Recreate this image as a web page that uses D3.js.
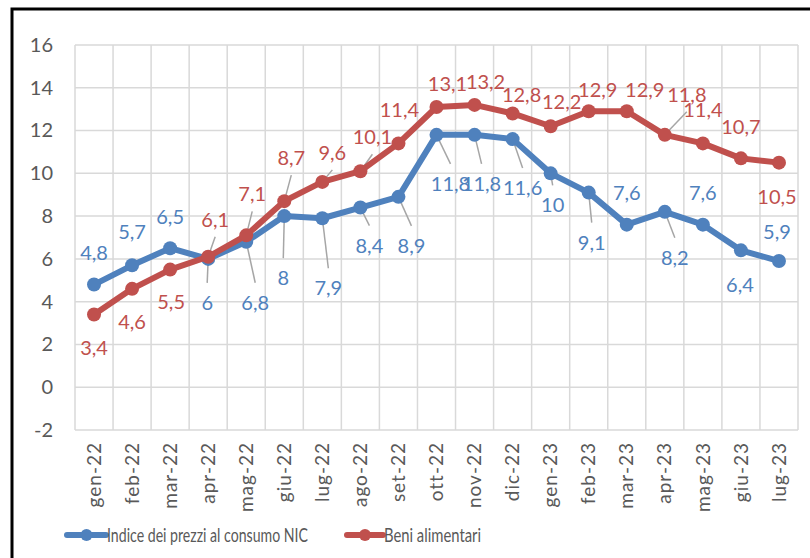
<!doctype html>
<html>
<head>
<meta charset="utf8">
<script src="https://d3js.org/d3.v7.min.js"></script>
<style>
    body { margin: 0; background: #fff; }
    text { font-family: Lato, "Open Sans", sans-serif; }
</style>
</head>
<body>
<svg width="810" height="558"></svg>
<script>
    // data
    var months = ["gen-22","feb-22","mar-22","apr-22","mag-22","giu-22","lug-22","ago-22","set-22","ott-22","nov-22","dic-22",
                  "gen-23","feb-23","mar-23","apr-23","mag-23","giu-23","lug-23"];
    var nic = [4.8, 5.7, 6.5, 6.0, 6.8, 8.0, 7.9, 8.4, 8.9, 11.8, 11.8, 11.6, 10.0, 9.1, 7.6, 8.2, 7.6, 6.4, 5.9];
    var alimentari = [3.4, 4.6, 5.5, 6.1, 7.1, 8.7, 9.6, 10.1, 11.4, 13.1, 13.2, 12.8, 12.2, 12.9, 12.9, 11.8, 11.4, 10.7, 10.5];
    var yTicks = [-2, 0, 2, 4, 6, 8, 10, 12, 14, 16];
    var seriesNames = ["Indice dei prezzi al consumo NIC", "Beni alimentari"];

    // label placement (offset from the point, leader line yes/no)
    var nicLabelPos = [[0,-32,0],[0,-33,0],[0,-31,0],[-1,44,1],[9,61,1],[-1,62,1],[6,70,1],[9,38,1],[13,49,1],[14,49,1],
                       [7,49,1],[10,49,1],[2,32,1],[3,50,1],[0,-32,0],[10,46,1],[0,-32,0],[-1,35,0],[-2,-29,0]];
    var aliLabelPos = [[0,33,0],[0,33,0],[1,32,0],[7,-37,1],[6,-41,1],[7,-43,1],[10,-29,1],[12,-34,1],[1,-33,0],[11,-23,0],
                       [11,-23,0],[9,-18,0],[11,-24,0],[9,-21,0],[18,-21,0],[22,-40,1],[0,-33,0],[0,-31,0],[-2,34,0]];

    var blue = "#4f81bd", red = "#c0504d";

    var svg = d3.select("svg");

    // outer frame (top and left edges visible)
    svg.append("path")
       .attr("d", "M12,558 L12,9 L810,9")
       .attr("fill", "none")
       .attr("stroke", "#000")
       .attr("stroke-width", 3);

    var plotL = 75, plotR = 798, plotT = 45, plotB = 430;

    var x = d3.scaleBand().domain(months).range([plotL, plotR]).padding(0);
    var y = d3.scaleLinear().domain([-2, 16]).range([plotB, plotT]);
    function cx(i) { return x(months[i]) + x.bandwidth() / 2; }

    // grid
    var grid = svg.append("g");
    grid.selectAll(".hg").data(yTicks).enter().append("line")
        .attr("x1", plotL).attr("x2", plotR)
        .attr("y1", function(d) { return y(d); }).attr("y2", function(d) { return y(d); })
        .attr("stroke", "#d9d9d9").attr("stroke-width", 1.5);
    grid.selectAll(".vg").data(months.concat(["end"])).enter().append("line")
        .attr("x1", function(d, i) { return plotL + i * x.bandwidth(); })
        .attr("x2", function(d, i) { return plotL + i * x.bandwidth(); })
        .attr("y1", plotT).attr("y2", plotB)
        .attr("stroke", "#d9d9d9").attr("stroke-width", 1.5);

    // y axis labels
    svg.append("g")
       .attr("transform", "translate(" + (plotL - 22) + ",0)")
       .call(d3.axisLeft(y).tickValues(yTicks).tickSize(0).tickPadding(0)
               .tickFormat(function(d) { return String(d); }))
       .call(function(g) { g.select(".domain").remove(); })
       .selectAll("text")
       .attr("font-family", "Lato, sans-serif")
       .attr("font-size", "20px")
       .attr("fill", "#595959");

    // x axis labels, rotated
    svg.append("g")
       .attr("transform", "translate(0," + (plotB + 12) + ")")
       .call(d3.axisBottom(x).tickSize(0).tickPadding(0))
       .call(function(g) { g.select(".domain").remove(); })
       .selectAll("text")
       .attr("font-family", "Lato, sans-serif")
       .attr("font-size", "19px")
       .attr("letter-spacing", "1px")
       .attr("fill", "#595959")
       .attr("text-anchor", "end")
       .attr("dy", "0.35em")
       .attr("transform", "rotate(-90)")
       .attr("x", 0).attr("y", 0);

    var line = d3.line()
        .x(function(d, i) { return cx(i); })
        .y(function(d) { return y(d); });

    function fmt(v) { return String(v).replace(".", ","); }

    function drawSeries(vals, color, pos) {
        var g = svg.append("g");
        // leader lines from the point towards the moved label
        vals.forEach(function(v, i) {
            if (!pos[i][2]) return;
            var lx = cx(i) + pos[i][0], ly = y(v) + pos[i][1];
            var ey = pos[i][1] > 0 ? ly - 20 : ly + 17;
            g.append("line")
             .attr("x1", cx(i)).attr("y1", y(v))
             .attr("x2", lx).attr("y2", ey)
             .attr("stroke", "#a6a6a6")
             .attr("stroke-width", 1.5);
        });
        g.append("path")
         .datum(vals)
         .attr("d", line)
         .attr("fill", "none")
         .attr("stroke", color)
         .attr("stroke-width", 6)
         .attr("stroke-linejoin", "round");
        g.selectAll("circle").data(vals).enter().append("circle")
         .attr("cx", function(d, i) { return cx(i); })
         .attr("cy", function(d) { return y(d); })
         .attr("r", 7)
         .attr("fill", color);
    }

    function drawLabels(vals, color, pos) {
        svg.append("g").selectAll("text").data(vals).enter().append("text")
           .attr("x", function(d, i) { return cx(i) + pos[i][0]; })
           .attr("y", function(d, i) { return y(d) + pos[i][1]; })
           .attr("dy", "0.35em")
           .attr("text-anchor", "middle")
           .attr("font-size", "20px")
           .attr("fill", color)
           .text(function(d) { return fmt(d); });
    }

    drawSeries(nic, blue, nicLabelPos);
    drawSeries(alimentari, red, aliLabelPos);
    drawLabels(nic, blue, nicLabelPos);
    drawLabels(alimentari, red, aliLabelPos);

    // legend
    var legend = svg.append("g").attr("transform", "translate(0,535)");
    var legendItems = [
        { name: seriesNames[0], color: blue, x0: 67, x1: 106, tw: 201 },
        { name: seriesNames[1], color: red, x0: 347, x1: 383, tw: 97 }
    ];
    legendItems.forEach(function(it) {
        legend.append("line")
              .attr("x1", it.x0).attr("x2", it.x1)
              .attr("y1", 0).attr("y2", 0)
              .attr("stroke", it.color).attr("stroke-width", 6)
              .attr("stroke-linecap", "round");
        legend.append("circle")
              .attr("cx", (it.x0 + it.x1) / 2).attr("cy", 0).attr("r", 6)
              .attr("fill", it.color);
        legend.append("text")
              .attr("x", it.x1 + 1).attr("y", 0).attr("dy", "0.35em")
              .attr("font-size", "20px")
              .attr("fill", "#595959")
              .attr("textLength", it.tw)
              .attr("lengthAdjust", "spacingAndGlyphs")
              .text(it.name);
    });
</script>
</body>
</html>
